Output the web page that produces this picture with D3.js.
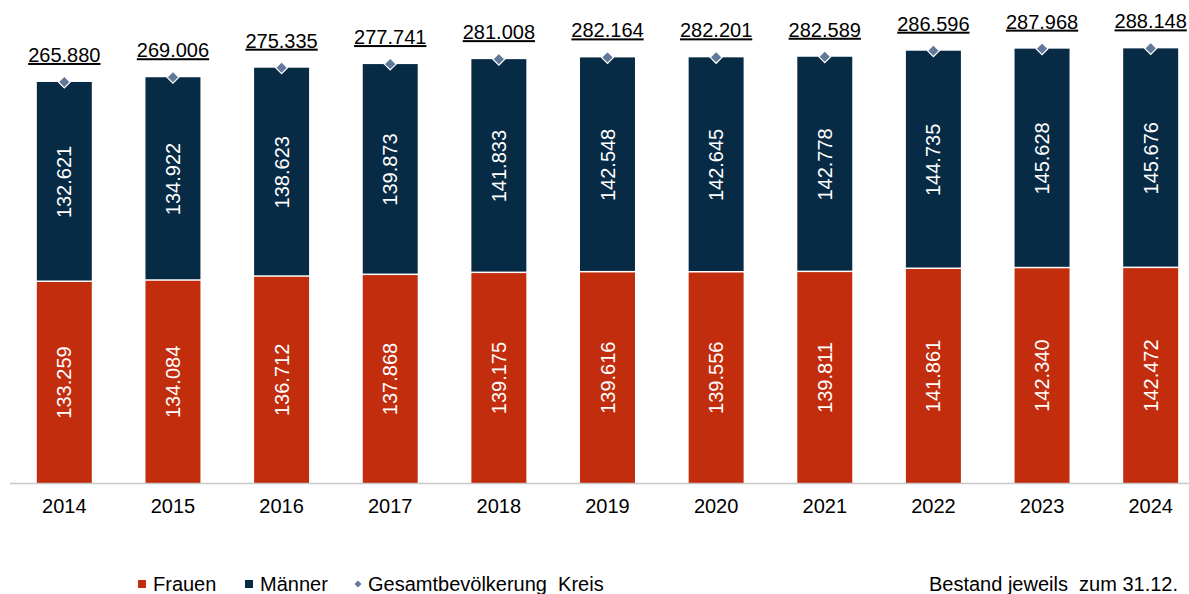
<!DOCTYPE html>
<html lang="de">
<head>
<meta charset="UTF-8">
<title>Bevölkerung Kreis</title>
<script src="https://d3js.org/d3.v7.min.js"></script>
<style>
    body { margin: 0; background: #fff; font-family: "Liberation Sans", Arial, sans-serif; }
    svg text { font-family: "Liberation Sans", Arial, sans-serif; }
</style>
</head>
<body>
<svg id="svg" width="1189" height="594"></svg>
<script>
    // data
    const years = ["2014", "2015", "2016", "2017", "2018", "2019", "2020", "2021", "2022", "2023", "2024"];
    const frauen = [133259, 134084, 136712, 137868, 139175, 139616, 139556, 139811, 141861, 142340, 142472];
    const maenner = [132621, 134922, 138623, 139873, 141833, 142548, 142645, 142778, 144735, 145628, 145676];
    const gesamt = [265880, 269006, 275335, 277741, 281008, 282164, 282201, 282589, 286596, 287968, 288148];

    const red = "#c22d0e";
    const navy = "#072a45";
    const diamondColor = "#60789a";
    const fmt = v => d3.format(",")(v).replace(/,/g, ".");

    const svg = d3.select("#svg");
    const baseY = 483;

    const x = d3.scaleBand().domain(years).range([10, 1205]).paddingInner(0.494).paddingOuter(0.247);
    const y = d3.scaleLinear().domain([0, 300000]).range([baseY, 30.5]);

    const rows = years.map((yr, i) => ({ year: yr, f: frauen[i], m: maenner[i], g: gesamt[i] }));

    // bars
    const g = svg.append("g");
    g.selectAll(".frauen").data(rows).enter().append("rect")
        .attr("x", d => x(d.year))
        .attr("width", x.bandwidth())
        .attr("y", d => y(d.f))
        .attr("height", d => baseY - y(d.f))
        .attr("fill", red);

    g.selectAll(".maenner").data(rows).enter().append("rect")
        .attr("x", d => x(d.year))
        .attr("width", x.bandwidth())
        .attr("y", d => y(d.f + d.m))
        .attr("height", d => y(d.f) - y(d.f + d.m) - 1.5)
        .attr("fill", navy);

    // axis line
    svg.append("line")
        .attr("x1", 10).attr("x2", 1189)
        .attr("y1", baseY + 0.5).attr("y2", baseY + 0.5)
        .attr("stroke", "#c8c8c8").attr("stroke-width", 1.5);

    // year labels
    svg.selectAll(".year").data(rows).enter().append("text")
        .attr("x", d => x(d.year) + x.bandwidth() / 2)
        .attr("y", 513)
        .attr("text-anchor", "middle")
        .attr("font-size", 20)
        .attr("fill", "#000")
        .text(d => d.year);

    // in-bar labels
    const inLabel = (val, mid) => svg.selectAll(null).data(rows).enter().append("text")
        .attr("transform", d => `translate(${x(d.year) + x.bandwidth() / 2},${mid(d)}) rotate(-90)`)
        .attr("text-anchor", "middle")
        .attr("dy", "0.35em")
        .attr("font-size", 20)
        .attr("fill", "#fff")
        .text(d => fmt(val(d)));

    inLabel(d => d.f, d => (y(0) + y(d.f)) / 2);
    inLabel(d => d.m, d => (y(d.f) + y(d.f + d.m)) / 2);

    // total diamonds
    svg.selectAll(".dia").data(rows).enter().append("path")
        .attr("d", d3.symbol().type(d3.symbolDiamond2).size(90))
        .attr("transform", d => `translate(${x(d.year) + x.bandwidth() / 2},${y(d.g)})`)
        .attr("fill", diamondColor)
        .attr("stroke", "#fff")
        .attr("stroke-width", 1.2);

    // total labels
    svg.selectAll(".tot").data(rows).enter().append("text")
        .attr("x", d => x(d.year) + x.bandwidth() / 2)
        .attr("y", d => y(d.g) - 20)
        .attr("text-anchor", "middle")
        .attr("font-size", 20)
        .attr("fill", "#000")
        .attr("text-decoration", "underline")
        .text(d => fmt(d.g));

    // legend
    const leg = svg.append("g").attr("font-size", 20).attr("fill", "#000");
    leg.append("rect").attr("x", 138).attr("y", 580).attr("width", 8).attr("height", 8).attr("fill", red);
    leg.append("text").attr("x", 153).attr("y", 591).text("Frauen");
    leg.append("rect").attr("x", 245).attr("y", 580).attr("width", 8).attr("height", 8).attr("fill", navy);
    leg.append("text").attr("x", 260).attr("y", 591).text("Männer");
    leg.append("path")
        .attr("d", d3.symbol().type(d3.symbolDiamond2).size(30))
        .attr("transform", "translate(358,584)")
        .attr("fill", diamondColor);
    leg.append("text").attr("x", 368).attr("y", 591).attr("xml:space", "preserve").text("Gesamtbevölkerung  Kreis");

    svg.append("text")
        .attr("x", 1178).attr("y", 591)
        .attr("text-anchor", "end")
        .attr("font-size", 20)
        .attr("fill", "#000")
        .attr("xml:space", "preserve")
        .text("Bestand jeweils  zum 31.12.");
</script>
</body>
</html>
